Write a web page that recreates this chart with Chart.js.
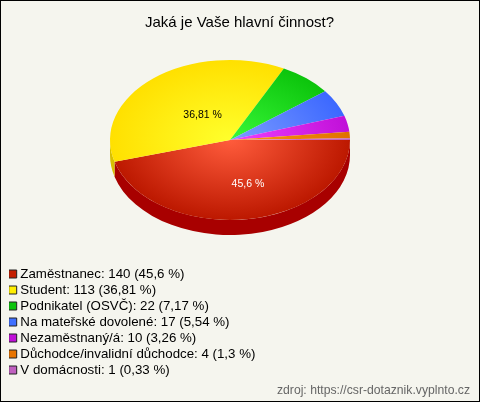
<!DOCTYPE html>
<html lang="cs">
<head>
<meta charset="utf-8">
<script src="https://cdn.jsdelivr.net/npm/chart.js@4"></script>
<style>
html,body{margin:0;padding:0;background:#f5f5ee}
#wrap{position:relative;width:480px;height:402px;overflow:hidden}
canvas{display:block;background:#f5f5ee}
#wrap:after{content:"";position:absolute;inset:0;border:1px solid #000;box-sizing:border-box;pointer-events:none}
</style>
</head>
<body>
<div id="wrap"><canvas id="c" width="480" height="402"></canvas></div>
<script>
const titleText = 'Jaká je Vaše hlavní činnost?';
const sourceText = 'zdroj: https://csr-dotaznik.vyplnto.cz';
const categories = ['Zaměstnanec','Student','Podnikatel (OSVČ)','Na mateřské dovolené','Nezaměstnaný/á','Důchodce/invalidní důchodce','V domácnosti'];
const counts = [140,113,22,17,10,4,1];
const percents = ['45,6','36,81','7,17','5,54','3,26','1,3','0,33'];
const swatchColors = ['#c41e00','#ffee00','#0cc40c','#4070ff','#c010d8','#e87400','#c060c0'];
const innerColors = ['#ff5c3c','#ffff2c','#38f838','#7c9cff','#f040ff','#ff9a10','#e080d0'];
const outerColors = ['#bc1800','#ffe000','#0cc40c','#3c68ff','#c010d8','#e07000','#c060c0'];
const wallColors = ['#a80000','#d8c000','#0a9a0a','#2c50c8','#980aa8','#b05800','#984898'];

const CX = 230, CY = 140, SQUASH = 2/3, DEPTH = 15;

const pie3d = {
  id:'pie3d',
  beforeDatasetsDraw(chart){
    const ctx = chart.ctx, arcs = chart.getDatasetMeta(0).data, a0 = arcs[0];
    ctx.save();
    ctx.translate(CX,CY); ctx.scale(1,SQUASH); ctx.translate(-a0.x,-a0.y);
    const d = DEPTH/SQUASH;
    arcs.forEach((a,i)=>{
      const s = Math.max(a.startAngle,0), e = Math.min(a.endAngle,Math.PI);
      if(e<=s) return;
      ctx.beginPath();
      ctx.arc(a.x,a.y,a.outerRadius,s,e);
      ctx.arc(a.x,a.y+d,a.outerRadius,e,s,true);
      ctx.closePath();
      ctx.fillStyle = wallColors[i];
      ctx.fill();
    });
  },
  afterDatasetsDraw(chart){
    const ctx = chart.ctx, arcs = chart.getDatasetMeta(0).data;
    ctx.restore();
    const place = {0:{shift:-7.3,frac:.57,color:'#fff'},1:{shift:3.4,frac:.3875,color:'#000'}};
    ctx.save();
    ctx.font = '10.5px "Liberation Sans"';
    ctx.textAlign='center'; ctx.textBaseline='middle';
    Object.keys(place).forEach(k=>{
      const a = arcs[k], p = place[k];
      const ang = (a.startAngle+a.endAngle)/2 + p.shift*Math.PI/180, r = a.outerRadius*p.frac;
      ctx.fillStyle = p.color;
      ctx.fillText(percents[k]+' %', CX+r*Math.cos(ang), CY+SQUASH*r*Math.sin(ang));
    });
    ctx.restore();
  }
};

function sliceFill(c){
  const i = c.dataIndex, area = c.chart.chartArea;
  if(!area) return outerColors[i];
  const x = (area.left+area.right)/2, y = (area.top+area.bottom)/2;
  const g = c.chart.ctx.createRadialGradient(x,y,0,x,y,120);
  g.addColorStop(0,innerColors[i]);
  g.addColorStop(1,outerColors[i]);
  return g;
}

new Chart(document.getElementById('c'),{
  type:'pie',
  data:{labels:categories,datasets:[{data:counts,backgroundColor:sliceFill,borderWidth:0}]},
  plugins:[pie3d],
  options:{
    responsive:false,animation:false,rotation:90,radius:120,
    events:[],
    layout:{padding:{left:9,right:10,top:0,bottom:3}},
    plugins:{
      tooltip:{enabled:false},
      title:{display:true,text:titleText,color:'#000',align:'center',
        font:{family:'"Liberation Sans"',size:15,weight:'normal'},padding:{top:14,bottom:8}},
      subtitle:{display:true,text:sourceText,position:'bottom',align:'end',color:'#666',
        font:{family:'"Liberation Sans"',size:12.2,weight:'normal'},padding:{top:4,bottom:1}},
      legend:{display:true,position:'left',align:'end',fullSize:false,maxWidth:300,
        labels:{usePointStyle:true,pointStyle:'rect',boxWidth:2,boxHeight:8,padding:2.7,color:'#222',
          font:{family:'"Liberation Sans"',size:13.3},
          generateLabels(){
            return categories.map((n,i)=>({
              text:n+': '+counts[i]+' ('+percents[i]+' %)',
              fillStyle:swatchColors[i],strokeStyle:'#222',lineWidth:1,
              pointStyle:'rect',hidden:false,index:i
            }));
          }}}
    }
  }
});
</script>
</body>
</html>
